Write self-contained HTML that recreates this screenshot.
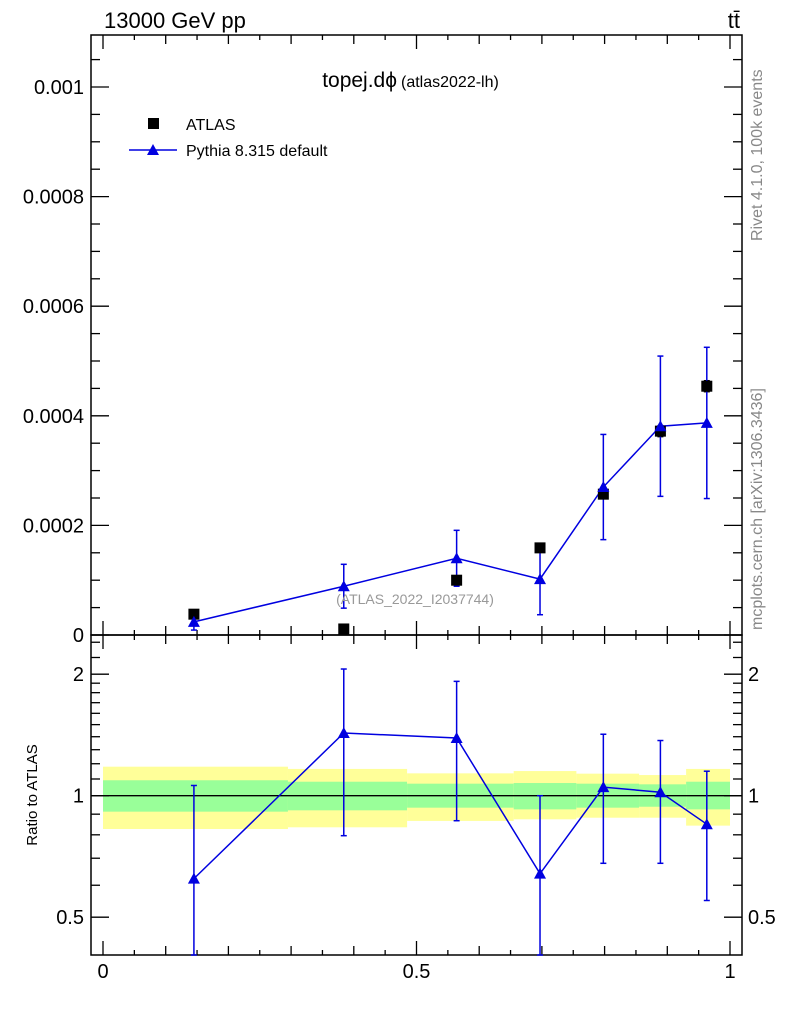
<!DOCTYPE html>
<html><head><meta charset="utf-8"><style>
body{margin:0;background:#fff}
svg text{font-family:"Liberation Sans",sans-serif}
</style></head><body>
<svg id="c" width="786" height="1024" xmlns="http://www.w3.org/2000/svg">
<g id="bands"></g>
<g id="axes"></g>
<g id="marks"></g>
<text x="104" y="28" font-size="22">13000 GeV pp</text>
<text x="740" y="28" font-size="22" text-anchor="end">tt̄</text>
<text x="397" y="87" font-size="21" text-anchor="end">topej.dϕ</text>
<text x="401" y="87" font-size="16">(atlas2022-lh)</text>
<rect x="148" y="118" width="11" height="11" fill="#000"/>
<text x="186" y="130" font-size="16">ATLAS</text>
<line x1="129" y1="150" x2="177" y2="150" stroke="#0000e0" stroke-width="1.5"/>
<polygon points="153,144 147,155 159,155" fill="#0000e0"/>
<text x="186" y="156" font-size="16">Pythia 8.315 default</text>
<text x="415" y="604" font-size="14" fill="#999" text-anchor="middle">(ATLAS_2022_I2037744)</text>
<text transform="translate(762,241) rotate(-90)" font-size="16" fill="#888">Rivet 4.1.0,  100k events</text>
<text transform="translate(762,630) rotate(-90)" font-size="16" fill="#888">mcplots.cern.ch [arXiv:1306.3436]</text>
<text transform="translate(37,795) rotate(-90)" font-size="15" text-anchor="middle">Ratio to ATLAS</text>
</svg>
<script>
const xCenters=[0.145,0.384,0.564,0.697,0.798,0.889,0.963];
const atlasVals=[3.8e-5,1.1e-5,1.0e-4,1.59e-4,2.57e-4,3.72e-4,4.54e-4];
const atlasErr=[3e-6,8e-6,6e-6,5e-6,8e-6,1e-5,1e-5];
const pythiaVals=[2.4e-5,8.9e-5,1.4e-4,1.02e-4,2.7e-4,3.81e-4,3.87e-4];
const pythiaErr=[1.5e-5,4e-5,5.1e-5,6.5e-5,9.6e-5,1.28e-4,1.38e-4];
const ratioVals=[0.623,1.43,1.39,0.641,1.05,1.02,0.85];
const ratioUp=[1.06,2.06,1.92,1.0,1.42,1.37,1.15];
const ratioDn=[0.3,0.796,0.867,0.3,0.68,0.68,0.55];
const binEdges=[0,0.295,0.485,0.655,0.755,0.855,0.93,1.0];
const yelHi=[1.180,1.165,1.136,1.151,1.134,1.125,1.165];
const yelLo=[0.827,0.835,0.866,0.874,0.882,0.882,0.843];
const grnHi=[1.092,1.083,1.071,1.075,1.071,1.067,1.083];
const grnLo=[0.913,0.920,0.934,0.925,0.934,0.939,0.925];
const yTicks=[0,0.0002,0.0004,0.0006,0.0008,0.001];
const yTickLabels=["0","0.0002","0.0004","0.0006","0.0008","0.001"];
const rTicks=[0.5,1,2];
const rTickLabels=["0.5","1","2"];
const xTicks=[0,0.5,1];
const xTickLabels=["0","0.5","1"];

const NS="http://www.w3.org/2000/svg";
const L=91,R=742,T=35,M=635,B=955;
const X=v=>103+627*v;
const Y=v=>635-548000*v;
const RY=v=>795.7-121.5*Math.log2(v);
function mk(p,tag,at){const e=document.createElementNS(NS,tag);for(const k in at)e.setAttribute(k,at[k]);p.appendChild(e);return e;}
const bands=document.getElementById('bands'),axes=document.getElementById('axes'),marks=document.getElementById('marks');
for(let i=0;i<yelHi.length;i++){
  const x1=X(binEdges[i]),x2=X(binEdges[i+1]);
  let r=mk(bands,'rect',{x:x1,y:RY(yelHi[i]),width:x2-x1,height:RY(yelLo[i])-RY(yelHi[i]),fill:'#ffff99'});
  
  
  r=mk(bands,'rect',{x:x1,y:RY(grnHi[i]),width:x2-x1,height:RY(grnLo[i])-RY(grnHi[i]),fill:'#99ff99'});
  
  
}
let ln=mk(axes,'line',{x1:L,x2:R,y1:RY(1),y2:RY(1),stroke:'#000','stroke-width':1.3});


[[T,M],[M,B]].forEach(([a,b])=>{const f=mk(axes,'rect',{x:L,y:a,width:R-L,height:b-a,fill:'none',stroke:'#000','stroke-width':1.5});

});
function tk(x1,y1,x2,y2){mk(axes,'line',{x1,y1,x2,y2,stroke:'#000','stroke-width':1.3});}
for(let k=0;k<=20;k++){const v=k*0.05,x=X(v),h=(k%10==0)?14:(k%2==0?9:5);
  [M,B].forEach(b=>tk(x,b,x,b-h));[T,M].forEach(t=>tk(x,t,x,t+h));}
xTicks.forEach((v,i)=>{const t=mk(axes,'text',{x:X(v),y:978,'font-size':20,'text-anchor':'middle'});t.textContent=xTickLabels[i];

});
for(let k=0;k<=21;k++){const v=k*0.00005,y=Y(v);if(y<T)break;const h=k%4==0?18:9;tk(L,y,L+h,y);tk(R,y,R-h,y);}
yTicks.forEach((v,i)=>{const t=mk(axes,'text',{x:84,y:Y(v)+7,'font-size':20,'text-anchor':'end'});t.textContent=yTickLabels[i];

});
const rm=[0.5,0.6,0.7,0.8,0.9,1,1.1,1.2,1.3,1.4,1.5,1.6,1.7,1.8,1.9,2,2.2,2.4];
rm.forEach(v=>{const y=RY(v);if(y<M||y>B)return;const h=rTicks.includes(v)?18:9;tk(L,y,L+h,y);tk(R,y,R-h,y);});
rTicks.forEach((v,i)=>{[[84,'end'],[748,'start']].forEach(([x,a])=>{const t=mk(axes,'text',{x,y:RY(v)+7,'font-size':20,'text-anchor':a});t.textContent=rTickLabels[i];

});});
const blue='#0000e0';
let pl=mk(marks,'polyline',{points:xCenters.map((x,i)=>X(x)+','+Y(pythiaVals[i])).join(' '),fill:'none',stroke:blue,'stroke-width':1.5});


function tri(x,y,n){const p=mk(marks,'polygon',{points:`${x},${y-6} ${x-6},${y+5} ${x+6},${y+5}`,fill:blue});

}
function err(x,y1,y2,c){mk(marks,'line',{x1:x,x2:x,y1,y2,stroke:c,'stroke-width':1.5});
mk(marks,'line',{x1:x-3,x2:x+3,y1:y1,y2:y1,stroke:c,'stroke-width':1.5});
mk(marks,'line',{x1:x-3,x2:x+3,y1:y2,y2:y2,stroke:c,'stroke-width':1.5});}
xCenters.forEach((xv,i)=>{const x=X(xv);
  err(x,Y(atlasVals[i]+atlasErr[i]),Math.min(M,Y(atlasVals[i]-atlasErr[i])),'#000');
  err(x,Y(pythiaVals[i]+pythiaErr[i]),Math.min(M,Y(pythiaVals[i]-pythiaErr[i])),blue);
  const s=mk(marks,'rect',{x:x-5.5,y:Y(atlasVals[i])-5.5,width:11,height:11,fill:'#000'});
  
  
  tri(x,Y(pythiaVals[i]),'pythia-point');
});
pl=mk(marks,'polyline',{points:xCenters.map((x,i)=>X(x)+','+RY(ratioVals[i])).join(' '),fill:'none',stroke:blue,'stroke-width':1.5});


xCenters.forEach((xv,i)=>{const x=X(xv);
  err(x,RY(ratioUp[i]),Math.min(B,RY(ratioDn[i])),blue);
  tri(x,RY(ratioVals[i]),'ratio-point');
});
</script>
</body></html>
